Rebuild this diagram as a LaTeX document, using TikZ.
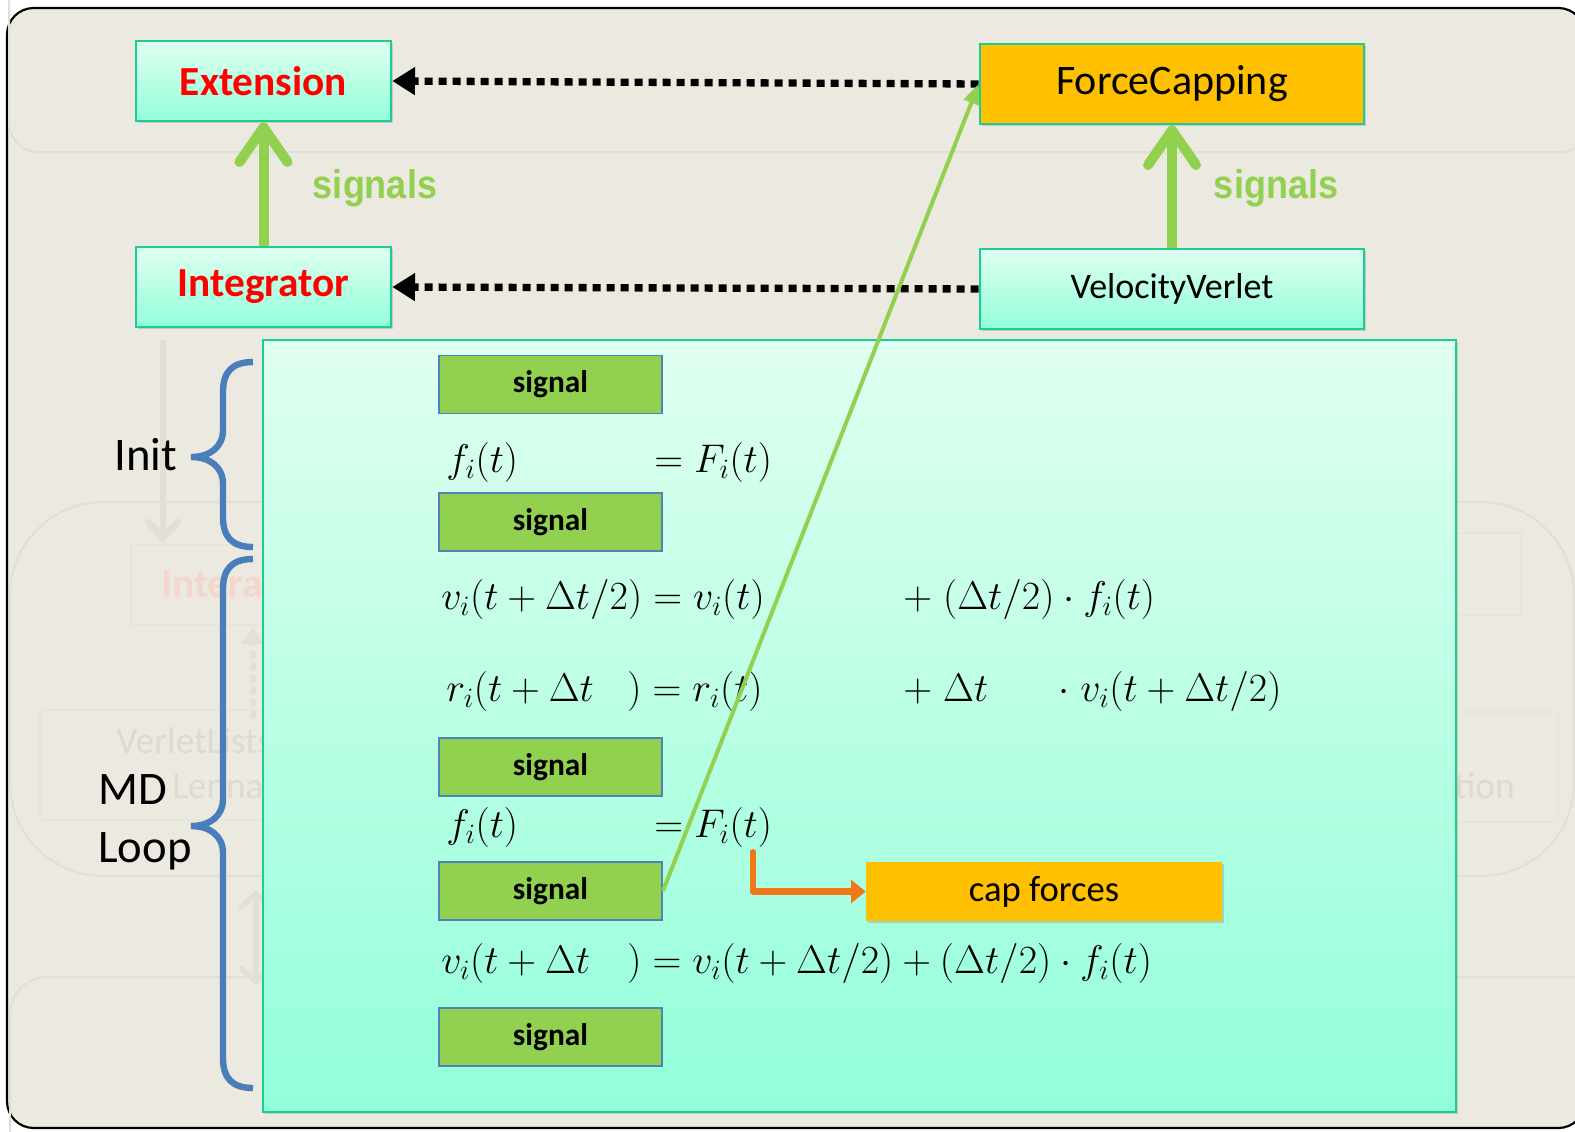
\RequirePackage{fix-cm}
\documentclass[tikz,border=0pt]{standalone}
\usepackage[no-math]{fontspec}
\setmainfont{Carlito}
\newfontfamily\sigfont[FakeStretch=0.9]{Liberation Sans}
\usetikzlibrary{arrows.meta,shadows}

\definecolor{paper}{RGB}{236,233,225}
\definecolor{ghostline}{RGB}{226,223,212}
\definecolor{ghostbox}{RGB}{227,231,218}
\definecolor{ghostred}{RGB}{244,214,204}
\definecolor{ghosttext}{RGB}{222,218,208}
\definecolor{mintTop}{RGB}{224,255,241}
\definecolor{mintBot}{RGB}{146,255,216}
\definecolor{tealEdge}{RGB}{24,206,150}
\definecolor{gold}{RGB}{255,192,0}
\definecolor{leaf}{RGB}{146,208,80}
\definecolor{sigEdge}{RGB}{79,129,189}
\definecolor{braceBlue}{RGB}{74,126,187}
\definecolor{flame}{RGB}{240,120,24}

\tikzset{
  wh/.style 2 args={minimum width={#1*0.75pt}, minimum height={#2*0.75pt}, inner sep=0pt},
  softshadow/.style={drop shadow={shadow xshift=1.5pt, shadow yshift=-1.5pt, opacity=0.25, fill=black!60}},
  classbox/.style={draw=tealEdge, line width=2pt, top color=mintTop, bottom color=mintBot, softshadow},
  goldbox/.style={draw=tealEdge, line width=2pt, fill=gold, softshadow},
  capbox/.style={fill=gold, softshadow},
  sigbox/.style={draw=sigEdge, line width=1.4pt, fill=leaf, wh={223}{58},
                 font=\fontsize{23.5}{28}\selectfont\bfseries},
  redtitle/.style={font=\fontsize{31}{37}\selectfont\bfseries, text=red},
  eq/.style={anchor=base west, inner sep=0pt, font=\fontsize{30}{36}\selectfont},
  linkarrow/.style={line width=5.5pt, dash pattern=on 6pt off 4.5pt,
                    -{Triangle[length=17pt,width=20pt]}},
  sigarrow/.style={line width=7.5pt, leaf,
                   -{Straight Barb[length=26pt,width=36pt,line cap=round,line join=round]}},
  siglabel/.style={font=\sigfont\fontsize{30}{36}\selectfont\bfseries, text=leaf},
  bracepath/.style={draw=braceBlue, line width=4.8pt},
  ghost/.style={draw=ghostline, line width=1.5pt},
}

\begin{document}
\begin{tikzpicture}[x=0.75pt,y=-0.75pt]
  \useasboundingbox (0,0) rectangle (1575,1132);
  \fill[white] (0,0) rectangle (1575,1132);

  % slide frame
  \draw[line width=1.6pt, fill=paper, rounded corners=20pt] (7,8) rectangle (1585,1128);

  % faded panels and boxes in the background
  \draw[ghost, rounded corners=22pt] (9,-30) rectangle (1590,152);
  \draw[ghost, rounded corners=70pt] (10,502) rectangle (1574,876);
  \draw[ghost, rounded corners=28pt] (10,977) rectangle (1610,1200);
  \draw[ghostbox, line width=1.2pt] (131,545) rectangle (300,625);
  \draw[ghostbox, line width=1.2pt] (1400,533) rectangle (1521,615);
  \draw[ghostbox, line width=1.2pt] (40,710) rectangle (300,820);
  \draw[ghostbox, line width=1.2pt] (1400,712) rectangle (1558,822);
  \node[anchor=west, inner sep=0pt, text=ghostred, font=\fontsize{31}{37}\selectfont\bfseries]
    (ghostA) at (161,583) {Interaction};
  \node[anchor=west, inner sep=0pt, text=ghosttext, font=\fontsize{28}{34}\selectfont]
    (ghostB) at (116,741) {VerletLists};
  \node[anchor=west, inner sep=0pt, text=ghosttext, font=\fontsize{28}{34}\selectfont]
    (ghostC) at (172,786) {Lennard};
  \node[anchor=east, inner sep=0pt, text=ghosttext, font=\fontsize{28}{34}\selectfont]
    (ghostD) at (1515,786) {tion};
  \coordinate (gA1) at (163,340);
  \coordinate (gA2) at (163,543);
  \draw[ghostline, line width=5pt, -{Straight Barb[length=12pt,width=22pt,line cap=round]}] (gA1) -- (gA2);
  \coordinate (gB1) at (253,718);
  \coordinate (gB2) at (253,628);
  \draw[ghostline, line width=5pt, dash pattern=on 5pt off 4pt, -{Triangle[length=12pt,width=16pt]}] (gB1) -- (gB2);
  \coordinate (gC1) at (256,890);
  \coordinate (gC2) at (256,985);
  \draw[ghostline, line width=4pt, {Straight Barb[length=10pt,width=22pt,line cap=round]}-{Straight Barb[length=10pt,width=22pt,line cap=round]}] (gC1) -- (gC2);

  % class boxes
  \node[classbox, wh={255}{80}, redtitle] (ext) at (263.5,81) {Extension};
  \node[classbox, wh={255}{80}, redtitle] (integ) at (263.5,287) {Integrator};
  \node[goldbox, wh={384}{80}, font=\fontsize{31.5}{37}\selectfont] (fc) at (1172,84) {ForceCapping};
  \node[classbox, wh={384}{80}, font=\fontsize{27}{32}\selectfont] (vv) at (1172,289) {VelocityVerlet};

  % inheritance-style links
  \draw[linkarrow] (fc.west) -- (ext.east);
  \draw[linkarrow] (vv.west) -- (integ.east);

  % signal arrows
  \draw[sigarrow] (integ.north) -- (ext.south);
  \draw[sigarrow] (vv.north) -- (fc.south);
  \node[siglabel] (sigL) at (375,188) {signals};
  \node[siglabel] (sigR) at (1276,188) {signals};

  % integration step panel
  \node[classbox, wh={1193}{772}] (panel) at (859.5,726) {};

  \node[sigbox] (s1) at (550.5,384.5) {signal};
  \node[sigbox] (s2) at (550.5,522) {signal};
  \node[sigbox] (s3) at (550.5,767) {signal};
  \node[sigbox] (s4) at (550.5,891) {signal};
  \node[sigbox] (s5) at (550.5,1037) {signal};

  % update equations
  \node[eq] (e1a) at (446,472) {$f_i(t)$};
  \node[eq] (e1b) at (654,472) {$=F_i(t)$};
  \node[eq] (e2a) at (441,609) {$v_i(t+\Delta t/2)=v_i(t)$};
  \node[eq] (e2b) at (903,609) {$+\;(\Delta t/2)\cdot f_i(t)$};
  \node[eq] (e3a) at (446,701) {$r_i(t+\Delta t$};
  \node[eq] (e3b) at (627,701) {$)=r_i(t)$};
  \node[eq] (e3c) at (903,701) {$+\;\Delta t$};
  \node[eq] (e3d) at (1058,701) {$\cdot\;v_i(t+\Delta t/2)$};
  \node[eq] (e4a) at (446,837) {$f_i(t)$};
  \node[eq] (e4b) at (654,837) {$=F_i(t)$};
  \node[eq] (e5a) at (441,973) {$v_i(t+\Delta t$};
  \node[eq] (e5b) at (627,973) {$)=v_i(t+\Delta t/2)+(\Delta t/2)\cdot f_i(t)$};

  % cap forces step
  \node[capbox, wh={356}{59}, font=\fontsize{27.5}{33}\selectfont] (cap) at (1044,891.5) {cap forces};
  \coordinate (capstart) at (753,852);
  \draw[flame, line width=4.6pt, line cap=round, line join=round,
        -{Triangle[length=11pt,width=17pt]}] (capstart) |- (cap.west);

  % signal hooked by ForceCapping
  \draw[leaf, line width=3pt, -{Triangle[length=15pt,width=12pt]}] (s4.east) -- (fc.west);

  % braces
  \path[bracepath] (253,362) .. controls (232,362) and (223,372) .. (223,392)
        -- (223,430) .. controls (223,447) and (210,457) .. (191,457)
        .. controls (210,457) and (223,467) .. (223,484)
        -- (223,517) .. controls (223,537) and (232,547) .. (253,547);
  \path[bracepath] (253,559) .. controls (232,559) and (223,569) .. (223,589)
        -- (223,799) .. controls (223,816) and (210,826) .. (191,826)
        .. controls (210,826) and (223,836) .. (223,853)
        -- (223,1058) .. controls (223,1078) and (232,1088) .. (253,1088);
  \node[font=\fontsize{35}{43}\selectfont, inner sep=0pt] (init) at (146,455) {Init};
  \node[font=\fontsize{35}{43.5}\selectfont, align=left, anchor=west, inner sep=0pt] (mdloop) at (98,822) {MD\\Loop};
\end{tikzpicture}
\end{document}
